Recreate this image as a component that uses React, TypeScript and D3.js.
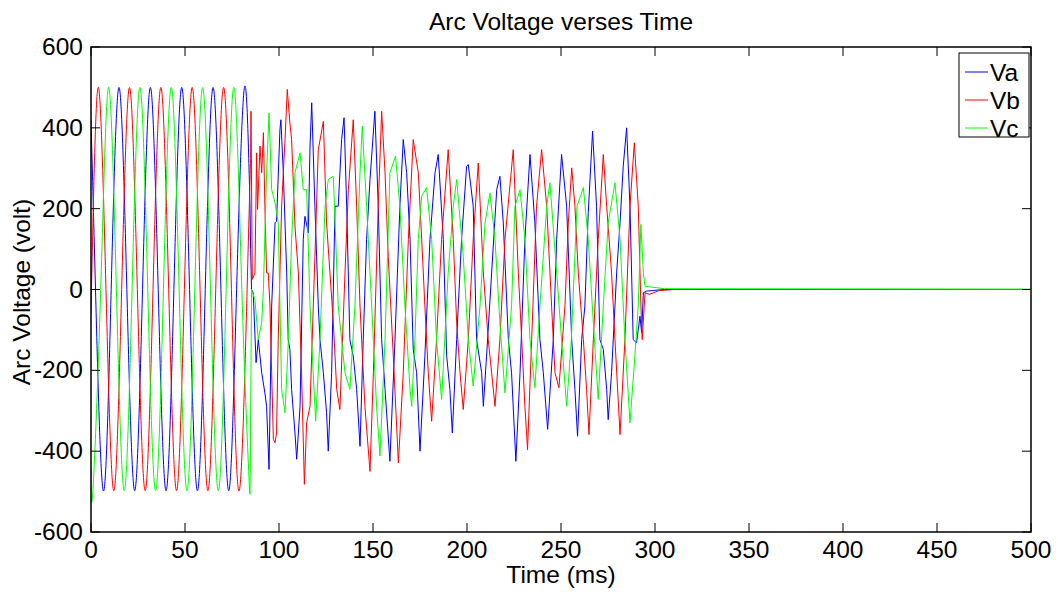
import React from "react";
import * as d3 from "d3";

type P = [number, number];

const xTicks = [0, 50, 100, 150, 200, 250, 300, 350, 400, 450, 500];
const yTicks = [-600, -400, -200, 0, 200, 400, 600];
const seriesNames = ["Va", "Vb", "Vc"];
const seriesColors = ["#0000ff", "#ff0000", "#00ff00"];

// Pre-fault (clean sinusoid) key points: time (ms), volts
const vaPre: P[] = [[0,420],[2.4,0],[6.56,-498],[10.73,0],[14.9,500],[19.07,0],[23.24,-498],[27.41,0],[31.58,500],[35.75,0],[39.92,-498],[44.09,0],[48.26,500],[52.43,0],[56.6,-498],[60.77,0],[64.94,500],[69.11,0],[73.28,-498],[77.45,0],[81.62,500],[84.6,200]];
const vbPre: P[] = [[0,-60],[3.8,500],[7.97,0],[12.14,-498],[16.31,0],[20.48,500],[24.65,0],[28.82,-498],[32.99,0],[37.16,500],[41.33,0],[45.5,-498],[49.67,0],[53.84,500],[58.01,0],[62.18,-498],[66.35,0],[70.52,500],[74.69,0],[78.86,-498],[83.03,0],[84.9,324]];
const vcPre: P[] = [[0,-440],[1.0,-498],[5.17,0],[9.34,500],[13.51,0],[17.68,-498],[21.85,0],[26.02,500],[30.19,0],[34.36,-498],[38.53,0],[42.7,500],[46.87,0],[51.04,-498],[55.21,0],[59.38,500],[63.55,0],[67.72,-498],[71.89,0],[76.06,500],[80.23,0],[84.4,-505]];

// Arcing period and after
const vaArc: P[] = [[84.6,200],[84.9,99],[85.4,0],[86.3,-8],[87.8,-181],[89.0,-124],[90.8,-206],[92.5,-256],[93.4,-289],[94.7,-445],[96.1,-41],[97.9,165],[98.7,169],[100.5,396],[101.0,420],[102.3,289],[104.1,41],[104.9,-124],[105.8,-148],[106.7,-247],[108.5,-355],[109.4,-420],[111.2,-289],[112.9,124],[113.8,181],[115.6,140],[116.5,355],[117.4,462],[119.1,206],[120.9,-41],[121.8,-124],[123.6,-206],[125.3,-305],[126.2,-400],[128.0,-206],[129.8,206],[131.5,206],[133.3,371],[134.6,425],[136.0,206],[137.7,-124],[139.5,-165],[141.3,-247],[143.1,-388],[144.8,-124],[146.6,124],[148.4,272],[151.0,441],[152.8,206],[154.6,-124],[156.4,-247],[159.0,-425],[161.7,-124],[164.3,206],[166.1,371],[167.9,289],[169.7,124],[171.4,-148],[173.2,-206],[175.0,-400],[177.6,-165],[180.3,124],[183.0,289],[184.7,334],[187.4,124],[189.2,-165],[190.9,-247],[192.2,-355],[194.5,-124],[197.1,124],[199.8,305],[200.7,309],[203.3,206],[205.1,-124],[207.8,-206],[208.7,-289],[210.4,-165],[213.1,41],[215.8,247],[217.5,280],[219.3,165],[222.0,-124],[223.7,-206],[226.0,-425],[228.2,-206],[230.8,124],[233.5,334],[236.1,165],[238.8,-124],[240.6,-206],[242.9,-346],[245.9,-124],[247.7,124],[250.3,334],[253.0,206],[255.7,-124],[257.4,-247],[258.8,-363],[261.0,-124],[262.7,-41],[264.5,190],[266.8,392],[268.9,206],[270.7,-124],[272.5,-148],[274.3,-247],[275.1,-322],[276.9,-206],[279.6,41],[281.4,165],[283.1,305],[284.9,400],[286.7,206],[288.4,-124],[290.2,-132],[292.0,-66],[292.9,-107],[293.8,-8],[295.5,-4],[300,-2],[305,0],[500,0]];
const vbArc: P[] = [[84.9,324],[85.1,441],[85.8,25],[87.2,41],[88.1,338],[88.6,198],[89.9,355],[90.8,289],[91.7,388],[92.5,206],[93.4,41],[94.3,41],[95.2,-41],[96.1,-206],[97.0,-371],[97.9,-379],[98.7,-355],[99.6,-124],[101.4,206],[103.2,371],[104.4,495],[105.8,412],[106.7,371],[108.5,157],[110.3,41],[112.0,-206],[113.5,-482],[114.7,-330],[116.5,-289],[119.1,82],[120.9,346],[123.6,416],[125.3,165],[127.1,41],[128.9,-82],[130.7,-247],[132.4,-297],[135.1,41],[136.9,247],[139.5,420],[141.3,206],[143.1,-41],[145.7,-289],[148.4,-450],[150.2,-206],[152.8,206],[154.6,441],[156.4,289],[158.1,82],[160.8,-165],[163.5,-429],[166.1,-206],[168.8,124],[171.4,371],[174.1,289],[175.9,124],[177.6,-41],[179.4,-206],[181.2,-326],[183.8,-124],[186.5,124],[190.0,346],[192.7,124],[194.5,-82],[196.3,-206],[198.0,-297],[200.7,-124],[203.3,124],[206.0,313],[208.7,41],[211.3,-124],[213.1,-206],[214.9,-289],[217.5,-124],[220.2,124],[224.6,346],[227.3,41],[229.1,-124],[230.8,-289],[232.2,-396],[234.4,-124],[237.0,206],[239.7,346],[242.4,206],[245.0,-41],[246.8,-206],[248.9,-243],[252.1,-41],[253.9,165],[255.7,301],[257.4,206],[259.2,41],[261.9,-124],[263.6,-247],[264.9,-359],[267.2,-124],[269.8,124],[272.5,334],[274.3,206],[276.9,41],[278.7,-124],[281.4,-359],[284.0,-124],[286.7,206],[289.0,363],[291.1,206],[292.5,-41],[293.2,-124],[294.7,-8],[297,-12],[302,-3],[310,0],[500,0]];
const vcArc: P[] = [[84.4,-505],[84.6,-507],[85.4,0],[87.2,-25],[89.0,-124],[90.8,-82],[91.7,0],[93.4,289],[94.7,437],[96.1,247],[97.9,214],[99.6,165],[100.5,-41],[101.4,-247],[103.2,-305],[105.0,-124],[106.7,124],[108.5,289],[111.2,338],[112.9,247],[114.7,247],[116.5,-41],[118.2,-206],[119.5,-326],[121.8,-124],[124.5,206],[126.2,272],[128.9,280],[131.5,-41],[135.1,-206],[137.7,-247],[140.4,-41],[143.1,289],[144.3,404],[146.6,206],[149.3,-41],[151.9,-289],[153.7,-412],[156.4,-124],[159.0,289],[162.0,330],[164.3,206],[167.0,-41],[169.7,-247],[170.6,-289],[172.3,-124],[174.1,124],[175.9,231],[178.5,252],[181.2,124],[183.8,-124],[186.5,-272],[190.0,41],[192.7,206],[194.5,272],[198.0,82],[200.7,-124],[203.3,-239],[206.9,-41],[209.6,165],[212.2,239],[214.9,124],[217.5,-82],[220.2,-256],[223.7,-41],[225.5,206],[228.2,247],[230.8,124],[233.5,-124],[236.1,-243],[238.8,-41],[242.4,206],[244.1,264],[247.7,41],[250.3,-124],[253.0,-289],[255.5,-124],[257.0,41],[258.5,206],[261.9,252],[264.5,124],[267.2,-82],[269.8,-272],[272.5,-41],[275.1,165],[278.7,264],[281.4,124],[284.0,-124],[286.7,-330],[289.3,-165],[291.1,-41],[292.5,161],[293.8,41],[294.7,8],[298,6],[305,2],[500,1]];

const preSeries = [vaPre, vbPre, vcPre];
const arcSeries = [vaArc, vbArc, vcArc];

export default function App() {
  const L = 91, R = 1031, T = 47, B = 532;
  const x = d3.scaleLinear().domain([0, 500]).range([L, R]);
  const y = d3.scaleLinear().domain([-600, 600]).range([B, T]);
  const smooth = d3.line<P>().x(d => x(d[0])).y(d => y(d[1])).curve(d3.curveNatural);
  const jag = d3.line<P>().x(d => x(d[0])).y(d => y(d[1]));
  const tickLen = 9;
  const font = "'Liberation Sans', Arial, Helvetica, sans-serif";
  const fs = 24.5;

  return (
    <svg width={1058} height={592} style={{ position: "absolute", left: 0, top: 0, display: "block" }} fontFamily={font}>
      <rect x={0} y={0} width={1058} height={592} fill="#fff" />
      <defs>
        <clipPath id="plotclip"><rect x={L} y={T} width={R - L} height={B - T} /></clipPath>
      </defs>
      <g clipPath="url(#plotclip)" fill="none" strokeWidth={1}>
        {seriesNames.map((n, i) => (
          <g key={n} stroke={seriesColors[i]}>
            <path d={smooth(preSeries[i]) || ""} />
            <path d={jag(arcSeries[i]) || ""} strokeLinejoin="round" />
          </g>
        ))}
      </g>
      <rect x={L} y={T} width={R - L} height={B - T} fill="none" stroke="#000" strokeWidth={1.5} />
      <g stroke="#000" strokeWidth={1}>
        {xTicks.map(t => (
          <g key={"xt" + t}>
            <line x1={x(t)} x2={x(t)} y1={B} y2={B - tickLen} />
            <line x1={x(t)} x2={x(t)} y1={T} y2={T + tickLen} />
          </g>
        ))}
        {yTicks.map(t => (
          <g key={"yt" + t}>
            <line x1={L} x2={L + tickLen} y1={y(t)} y2={y(t)} />
            <line x1={R} x2={R - tickLen} y1={y(t)} y2={y(t)} />
          </g>
        ))}
      </g>
      <g fontSize={fs} fill="#000">
        {xTicks.map(t => (
          <text key={"xl" + t} x={x(t)} y={558} textAnchor="middle">{t}</text>
        ))}
        {yTicks.map(t => (
          <text key={"yl" + t} x={83} y={y(t) + 8} textAnchor="end">{t}</text>
        ))}
        <text x={(L + R) / 2} y={583} textAnchor="middle">Time (ms)</text>
        <text x={30} y={292} textAnchor="middle" transform="rotate(-90, 30, 292)">Arc Voltage (volt)</text>
        <text x={(L + R) / 2} y={29.5} textAnchor="middle">Arc Voltage verses Time</text>
      </g>
      <g>
        <rect x={959} y={53} width={70} height={84} fill="#fff" stroke="#000" strokeWidth={1} />
        {seriesNames.map((n, i) => (
          <g key={"lg" + n}>
            <line x1={965} x2={988} y1={72 + i * 28} y2={72 + i * 28} stroke={seriesColors[i]} strokeWidth={1} />
            <text x={990} y={72 + i * 28 + 8.5} fontSize={fs} fill="#000">{n}</text>
          </g>
        ))}
      </g>
    </svg>
  );
}
